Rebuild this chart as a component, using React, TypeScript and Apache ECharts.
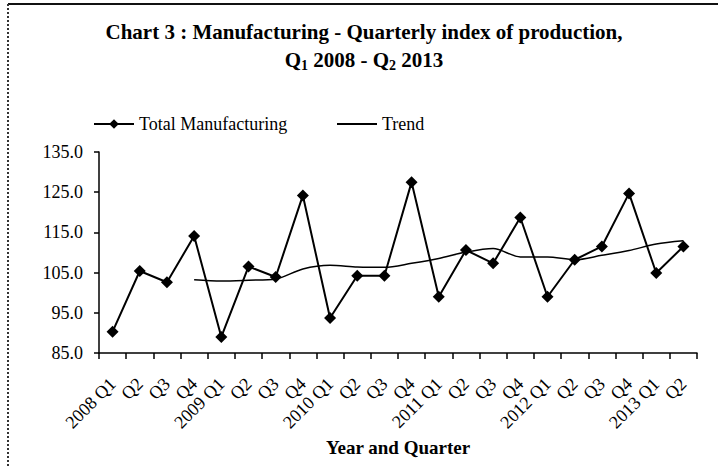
import React, { useEffect, useRef } from "react";
import * as echarts from "echarts";

const categories = [
  "2008 Q1", "Q2", "Q3", "Q4",
  "2009 Q1", "Q2", "Q3", "Q4",
  "2010 Q1", "Q2", "Q3", "Q4",
  "2011 Q1", "Q2", "Q3", "Q4",
  "2012 Q1", "Q2", "Q3", "Q4",
  "2013 Q1", "Q2",
];

const totalManufacturing = [
  90.3, 105.4, 102.6, 114.1,
  89.0, 106.5, 103.9, 124.2,
  93.7, 104.2, 104.2, 127.5,
  99.0, 110.6, 107.3, 118.7,
  99.0, 108.2, 111.5, 124.7,
  104.9, 111.5,
];

const trend: (number | null)[] = [
  null, null, null, 103.2,
  102.9, 103.1, 103.4, 105.9,
  106.8, 106.4, 106.3, 107.3,
  108.5, 110.1, 111.0, 108.9,
  108.9, 108.2, 109.3, 110.5,
  112.1, 112.9,
];

const yTicks = { min: 85, max: 135, interval: 10 };

const FONT = "'Liberation Serif', 'Times New Roman', serif";

export default function App() {
  const ref = useRef<HTMLDivElement>(null);

  useEffect(() => {
    document.body.style.margin = "0";
    const chart = echarts.init(ref.current!, null, { renderer: "svg" });
    const legendText = { fontFamily: FONT, fontSize: 18, color: "#000" };
    chart.setOption({
      animation: false,
      backgroundColor: "#fff",
      textStyle: { fontFamily: FONT, color: "#000" },
      title: [
        {
          text: "Chart 3 : Manufacturing - Quarterly index of production,",
          left: 364,
          top: 21,
          padding: 0,
          textAlign: "center",
          textStyle: { fontFamily: FONT, fontSize: 21, fontWeight: "bold", color: "#000" },
        },
        {
          text: "Q{sub|1} 2008 - Q{sub|2} 2013",
          left: 364,
          top: 48,
          padding: 0,
          textAlign: "center",
          textStyle: {
            fontFamily: FONT,
            fontSize: 21,
            fontWeight: "bold",
            color: "#000",
            rich: {
              sub: {
                fontFamily: FONT,
                fontSize: 14,
                fontWeight: "bold",
                color: "#000",
                verticalAlign: "bottom",
                padding: [10, 0, 0, 0],
              },
            },
          },
        },
      ],
      legend: [
        {
          top: 115,
          left: 93,
          padding: 0,
          itemWidth: 40,
          itemHeight: 12,
          textStyle: legendText,
          data: ["Total Manufacturing"],
        },
        {
          top: 115,
          left: 337,
          padding: 0,
          itemWidth: 40,
          itemHeight: 2,
          textStyle: legendText,
          data: [{ name: "Trend", icon: "rect" }],
        },
      ],
      grid: { left: 99, right: 21, top: 152, bottom: 114 },
      xAxis: {
        type: "category",
        data: categories,
        boundaryGap: true,
        name: "Year and Quarter",
        nameLocation: "middle",
        nameGap: 85,
        nameTextStyle: { fontFamily: FONT, fontSize: 19, fontWeight: "bold", color: "#000" },
        axisLine: { lineStyle: { color: "#000", width: 1.5 } },
        axisTick: { show: true, length: 6, lineStyle: { color: "#000", width: 1.5 } },
        axisLabel: {
          interval: 0,
          rotate: 45,
          fontFamily: FONT,
          fontSize: 18,
          color: "#000",
          margin: 28,
        },
        splitLine: { show: false },
      },
      yAxis: {
        type: "value",
        min: yTicks.min,
        max: yTicks.max,
        interval: yTicks.interval,
        axisLine: { show: true, lineStyle: { color: "#000", width: 1.5 } },
        axisTick: { show: true, length: 5, lineStyle: { color: "#000", width: 1.5 } },
        axisLabel: {
          fontFamily: FONT,
          fontSize: 18,
          color: "#000",
          margin: 16,
          formatter: (v: number) => v.toFixed(1),
        },
        splitLine: { show: false },
      },
      series: [
        {
          name: "Total Manufacturing",
          type: "line",
          data: totalManufacturing,
          symbol: "diamond",
          symbolSize: 12,
          itemStyle: { color: "#000" },
          lineStyle: { color: "#000", width: 2 },
          z: 3,
        },
        {
          name: "Trend",
          type: "line",
          data: trend,
          symbol: "none",
          smooth: 0.3,
          itemStyle: { color: "#000" },
          lineStyle: { color: "#000", width: 1.5 },
          z: 2,
        },
      ],
      graphic: [
        {
          type: "line",
          shape: { x1: 8, y1: 4, x2: 718, y2: 4 },
          style: { stroke: "#111", lineWidth: 2 },
        },
        {
          type: "line",
          shape: { x1: 8, y1: 4, x2: 8, y2: 467 },
          style: { stroke: "#333", lineWidth: 2, lineDash: [2, 2] },
        },
      ],
    });
    return () => chart.dispose();
  }, []);

  return <div ref={ref} style={{ width: 718, height: 467 }} />;
}
